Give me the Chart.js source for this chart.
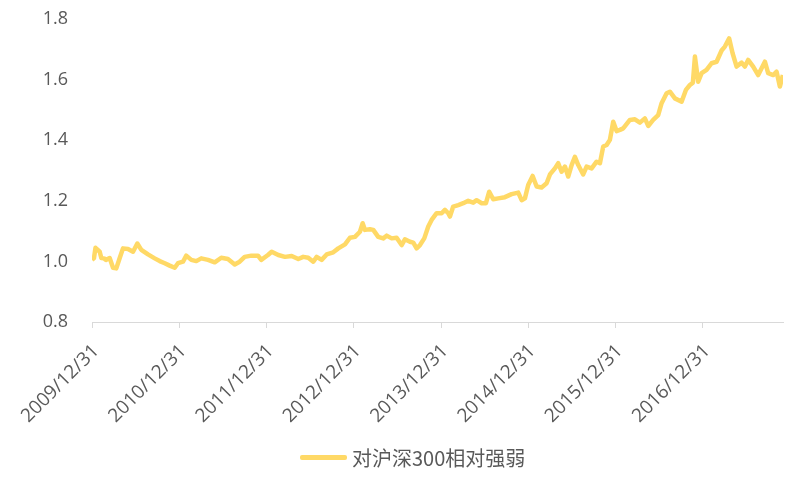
<!DOCTYPE html>
<html>
<head>
<meta charset="utf-8">
<script src="https://cdn.jsdelivr.net/npm/chart.js@4.4.1/dist/chart.umd.min.js"></script>
<style>
    html, body { margin: 0; padding: 0; background: #ffffff; }
    #wrap { position: relative; width: 792px; height: 477px; }
    #legend { position: absolute; left: 300px; top: 443px; display: flex; align-items: center; font-family: "Noto Sans CJK SC", "Noto Sans", sans-serif; font-size: 20px; color: #595959; }
    #legend .swatch { width: 47px; height: 5px; border-radius: 2px; margin-right: 5px; }
</style>
</head>
<body>
<div id="wrap">
    <canvas id="grafico" width="792" height="477"></canvas>
    <div id="legend"></div>
</div>
<script>
// meses desde 2009/12/31
const meses = [
    0.0, 0.27, 0.48, 0.69, 1.06, 1.28, 1.65, 1.92, 2.43, 2.89, 3.34, 3.81, 4.26, 4.95, 5.64, 6.23, 6.78, 7.70, 8.62, 9.31,
    10.0, 10.68, 11.37, 11.82, 12.51, 12.96, 13.65, 14.34, 15.02, 15.95, 16.87, 17.77, 18.69, 19.62, 20.30, 20.99, 21.90, 22.82, 23.27,
    24.19, 24.70, 25.61, 26.53, 27.45, 28.36, 29.04, 29.73, 30.42, 30.89, 31.57, 32.26, 33.17, 33.86, 34.78, 35.46,
    36.15, 36.84, 37.21, 37.53, 38.21, 38.67, 39.35, 40.04, 40.51, 41.20, 41.88, 42.57, 43.02, 43.71, 44.17, 44.63, 45.09, 45.68, 46.23, 46.69, 47.38,
    48.07, 48.52, 48.98, 49.21, 49.66, 50.35, 51.04, 51.72, 52.41, 52.88, 53.57, 54.16, 54.61, 55.16, 55.85, 56.77, 57.69, 58.60, 59.07, 59.52,
    59.97, 60.58, 61.13, 61.81, 62.50, 62.96, 63.64, 64.10, 64.56, 65.02, 65.47, 65.94, 66.39, 66.85, 67.53, 68.00, 68.69, 69.37, 69.83, 70.28, 70.75, 71.20, 71.66,
    72.12, 72.58, 73.03, 73.95, 74.64, 75.33, 76.01, 76.47, 77.15, 77.84, 78.31, 79.00, 79.45, 80.14, 81.06, 81.65, 82.20, 82.61, 82.89, 83.34, 83.81,
    84.49, 85.18, 85.87, 86.56, 87.01, 87.60, 88.07, 88.62, 89.31, 89.76, 90.21, 90.90, 91.59, 92.51, 92.96, 93.65, 94.12, 94.57, 94.98
];
const fuerzaRelativa = [
    1.005, 1.011, 1.045, 1.040, 1.032, 1.011, 1.010, 1.005, 1.011, 0.979, 0.977, 1.011, 1.043, 1.041, 1.032, 1.059, 1.038, 1.023, 1.010, 1.001,
    0.994, 0.986, 0.979, 0.994, 0.999, 1.019, 1.005, 1.001, 1.010, 1.005, 0.997, 1.012, 1.008, 0.990, 0.999, 1.015, 1.019, 1.019, 1.005,
    1.021, 1.032, 1.021, 1.015, 1.018, 1.008, 1.015, 1.012, 0.999, 1.015, 1.005, 1.023, 1.030, 1.043, 1.056, 1.078,
    1.081, 1.098, 1.126, 1.104, 1.106, 1.104, 1.081, 1.076, 1.085, 1.076, 1.078, 1.054, 1.073, 1.065, 1.062, 1.043, 1.054, 1.076, 1.115, 1.137, 1.159,
    1.159, 1.170, 1.159, 1.148, 1.181, 1.186, 1.192, 1.200, 1.194, 1.202, 1.192, 1.192, 1.230, 1.205, 1.208, 1.212, 1.222, 1.227, 1.202, 1.208,
    1.252, 1.282, 1.247, 1.244, 1.258, 1.287, 1.307, 1.324, 1.296, 1.313, 1.280, 1.318, 1.345, 1.318, 1.287, 1.313, 1.307, 1.329, 1.324, 1.379, 1.384, 1.401, 1.461,
    1.430, 1.434, 1.439, 1.467, 1.469, 1.458, 1.472, 1.447, 1.467, 1.483, 1.522, 1.555, 1.560, 1.538, 1.527, 1.566, 1.582, 1.590, 1.676, 1.593, 1.621,
    1.632, 1.654, 1.659, 1.696, 1.709, 1.736, 1.687, 1.643, 1.656, 1.643, 1.665, 1.643, 1.615, 1.659, 1.621, 1.615, 1.626, 1.577, 1.615
];
const etiquetasX = ['2009/12/31', '2010/12/31', '2011/12/31', '2012/12/31', '2013/12/31', '2014/12/31', '2015/12/31', '2016/12/31'];
const nombreSerie = '对沪深300相对强弱';

const colorLinea = '#ffd966';
const colorTexto = '#595959';

const puntos = meses.map((m, i) => ({ x: m, y: fuerzaRelativa[i] }));

const grafico = new Chart(document.getElementById('grafico'), {
    type: 'line',
    data: {
        datasets: [{
            label: nombreSerie,
            data: puntos,
            borderColor: colorLinea,
            borderWidth: 4.5,
            pointRadius: 0,
            tension: 0,
            borderJoinStyle: 'round'
        }]
    },
    options: {
        responsive: false,
        animation: false,
        layout: { padding: { left: 0, right: 9, top: 19, bottom: 0 } },
        plugins: { legend: { display: false }, tooltip: { enabled: false } },
        scales: {
            x: {
                type: 'linear',
                min: 0,
                max: 95,
                afterFit: (scale) => { scale.height = 155; scale.paddingRight = 0; },
                grid: { display: true, drawOnChartArea: false, drawTicks: true, tickLength: 6, color: '#d9d9d9' },
                border: { display: true, color: '#d9d9d9', width: 1 },
                ticks: {
                    stepSize: 12,
                    includeBounds: false,
                    autoSkip: false,
                    minRotation: 45,
                    maxRotation: 45,
                    padding: 12,
                    labelOffset: 4,
                    color: colorTexto,
                    font: { family: '"Open Sans", sans-serif', size: 19 },
                    callback: (v) => etiquetasX[Math.round(v / 12)] || ''
                }
            },
            y: {
                min: 0.8,
                max: 1.8,
                afterFit: (scale) => { scale.width = 92; scale.paddingTop = 0; scale.paddingBottom = 0; },
                grid: { display: false },
                border: { display: false },
                ticks: {
                    stepSize: 0.2,
                    padding: 16,
                    color: colorTexto,
                    font: { family: '"Open Sans", sans-serif', size: 18 },
                    callback: (v) => Number(v).toFixed(1)
                }
            }
        }
    }
});

const leyenda = document.getElementById('legend');
grafico.data.datasets.forEach((ds) => {
    leyenda.insertAdjacentHTML('beforeend', `<span class="swatch" style="background:${ds.borderColor}"></span><span>${ds.label}</span>`);
});
</script>
</body>
</html>
